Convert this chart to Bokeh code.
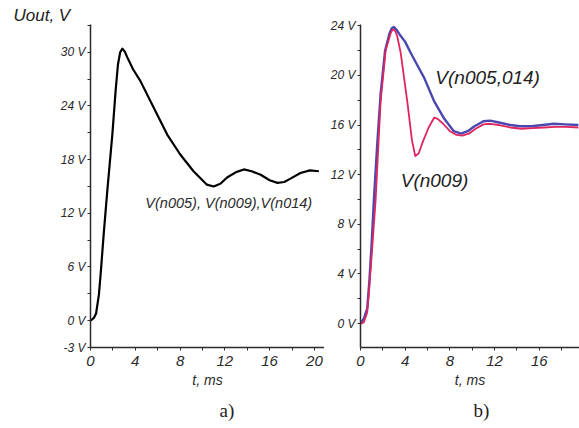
from bokeh.plotting import figure
from bokeh.layouts import row
from bokeh.models import Range1d, FixedTicker, Label, Title
from bokeh.embed import file_html
from bokeh.resources import INLINE

# ---- data: panel a) ----
t_a = [0, 0.3, 0.5, 0.75, 0.9, 1.2, 1.5, 1.95, 2.25, 2.45, 2.65, 2.85, 3.05, 3.3,
       3.8, 4.45, 5.65, 6.85, 8.0, 9.2, 10.4, 11.0, 11.6, 12.2, 13.0, 13.7, 14.4,
       15.2, 16.0, 16.7, 17.3, 17.9, 18.75, 19.6, 20.4]
v_a = [0, 0.3, 0.8, 2.9, 5.1, 10.0, 14.5, 20.8, 25.8, 28.6, 30.0, 30.4, 30.1, 29.4,
       28.1, 26.8, 23.8, 20.8, 18.6, 16.7, 15.2, 15.0, 15.3, 16.0, 16.6, 16.9, 16.7,
       16.3, 15.7, 15.4, 15.5, 15.9, 16.5, 16.8, 16.7]

# ---- data: panel b) ----
t_blue = [0, 0.3, 0.6, 0.8, 1.0, 1.2, 1.5, 1.8, 2.2, 2.6, 2.8, 3.0, 3.2, 3.5, 4.0,
          4.5, 5.1, 5.7, 6.6, 7.5, 8.35, 9.0, 9.6, 10.2, 11.0, 11.6, 12.4, 13.4,
          14.3, 15.3, 16.3, 17.3, 18.3, 19.5]
v_blue = [0, 0.4, 1.2, 3.5, 6.5, 10.0, 14.5, 18.5, 22.0, 23.4, 23.8, 23.9, 23.7,
          23.3, 22.7, 21.8, 20.8, 19.8, 17.9, 16.5, 15.5, 15.3, 15.5, 15.9, 16.3,
          16.35, 16.2, 16.0, 15.9, 15.9, 16.0, 16.1, 16.05, 16.0]
t_red = [0, 0.3, 0.6, 0.75, 1.05, 1.35, 1.8, 2.25, 2.7, 2.85, 3.0, 3.15, 3.3, 3.6,
         3.9, 4.2, 4.6, 4.9, 5.2, 5.6, 6.1, 6.6, 6.9, 7.4, 8.0, 8.6, 9.1, 9.7, 10.3,
         11.0, 11.6, 12.4, 13.4, 14.4, 15.4, 16.4, 17.4, 18.4, 19.5]
v_red = [0, 0.1, 0.9, 2.4, 6.1, 9.9, 17.9, 22.0, 23.4, 23.65, 23.7, 23.5, 23.1,
         21.8, 19.8, 17.8, 14.8, 13.5, 13.7, 14.7, 15.8, 16.6, 16.5, 16.1, 15.5,
         15.2, 15.15, 15.3, 15.7, 16.05, 16.1, 16.0, 15.8, 15.7, 15.75, 15.8, 15.85,
         15.85, 15.8]

# ---- ticks ----
yticks_a = [-3, 0, 6, 12, 18, 24, 30]
yminor_a = [3, 9, 15, 21, 27, 33]
xticks_a = [0, 4, 8, 12, 16, 20]
xminor_a = [2, 6, 10, 14, 18]
yticks_b = [0, 4, 8, 12, 16, 20, 24]
yminor_b = [-2, 2, 6, 10, 14, 18, 22]
xticks_b = [0, 4, 8, 12, 16]
xminor_b = [2, 6, 10, 14, 18]

SANS = "Liberation Sans"
SERIF = "Liberation Serif"
AX = "#2a2a2a"


def style(p, yt, ym, xt, xm):
    p.xaxis.ticker = FixedTicker(ticks=xt, minor_ticks=xm)
    p.yaxis.ticker = FixedTicker(ticks=yt, minor_ticks=ym)
    p.yaxis.major_label_overrides = {v: f"{v} V" for v in yt}
    p.xaxis.major_label_overrides = {v: f"{v}" for v in xt}
    for ax in (p.xaxis[0], p.yaxis[0]):
        ax.axis_line_color = AX
        ax.axis_line_width = 1.5
        ax.major_tick_line_color = AX
        ax.minor_tick_line_color = AX
        ax.major_tick_in = 0
        ax.major_tick_out = 3
        ax.minor_tick_in = 0
        ax.minor_tick_out = 3
        ax.major_label_text_font = SANS
        ax.major_label_text_font_style = "italic"
        ax.major_label_text_color = AX
        ax.axis_label_text_font = SANS
        ax.axis_label_text_font_style = "italic"
        ax.axis_label_text_color = AX
        ax.axis_label_text_font_size = "14px"
    p.yaxis.major_label_text_font_size = "12px"
    p.xaxis.major_label_text_font_size = "15px"
    p.yaxis.major_label_standoff = 2
    p.xaxis.major_label_standoff = 5
    p.xaxis.axis_label = "t, ms"
    p.xaxis.axis_label_standoff = 3
    p.xgrid.visible = False
    p.ygrid.visible = False
    p.outline_line_color = None
    p.background_fill_color = "white"
    p.border_fill_color = "white"


pa = figure(width=324, height=428, output_backend="svg", toolbar_location=None,
            x_range=Range1d(0, 20.9), y_range=Range1d(-3, 33.1),
            min_border_left=90, min_border_right=0, min_border_top=24,
            min_border_bottom=81)
style(pa, yticks_a, yminor_a, xticks_a, xminor_a)
pa.line(t_a, v_a, line_color="black", line_width=2.2, line_join="round")

pa.add_layout(Label(x=4.9, y=13.1, text="V(n005), V(n009),V(n014)",
                    text_font=SANS, text_font_style="italic", text_font_size="14.5px",
                    text_color=AX, text_baseline="middle", text_align="left"))
pa.add_layout(Title(text="Uout, V", align="left", offset=-77, standoff=0,
                    text_font=SANS, text_font_style="italic", text_font_size="17px",
                    text_color="#222222"), "above")
pa.add_layout(Title(text="a)", align="left", offset=129, standoff=14,
                    text_font=SERIF, text_font_style="normal", text_font_size="19px",
                    text_color="#222222"), "below")

pb = figure(width=255, height=428, output_backend="svg", toolbar_location=None,
            x_range=Range1d(0, 19.6), y_range=Range1d(-1.93, 24.1),
            min_border_left=36, min_border_right=0, min_border_top=24,
            min_border_bottom=81)
style(pb, yticks_b, yminor_b, xticks_b, xminor_b)
pb.line(t_blue, v_blue, line_color="#4a48b0", line_width=2.4, line_join="round")
pb.line(t_red, v_red, line_color="#e0245e", line_width=1.8, line_join="round")

pb.add_layout(Label(x=6.7, y=19.8, text="V(n005,014)", text_font=SANS,
                    text_font_style="italic", text_font_size="19px",
                    text_color="#222222", text_baseline="middle", text_align="left"))
pb.add_layout(Label(x=3.6, y=11.5, text="V(n009)", text_font=SANS,
                    text_font_style="italic", text_font_size="19px",
                    text_color="#222222", text_baseline="middle", text_align="left"))
pb.add_layout(Title(text="b)", align="left", offset=113, standoff=14,
                    text_font=SERIF, text_font_style="normal", text_font_size="19px",
                    text_color="#222222"), "below")

layout = row(pa, pb, spacing=0)
open("out.html", "w").write(file_html(layout, INLINE))
